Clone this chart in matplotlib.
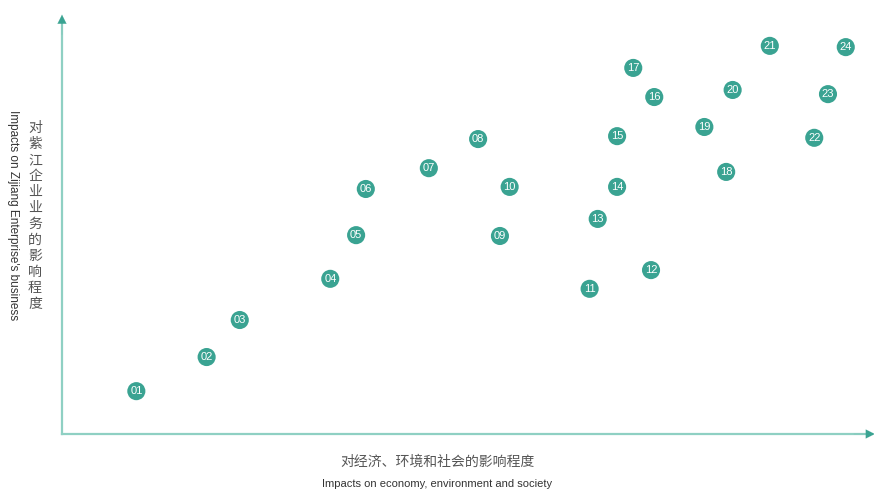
import matplotlib.pyplot as plt

# labels and positions (0-100 on both axes)
ids = ["01", "02", "03", "04", "05", "06", "07", "08", "09", "10", "11", "12",
       "13", "14", "15", "16", "17", "18", "19", "20", "21", "22", "23", "24"]
x_impact = [9.2, 17.9, 22.0, 33.2, 36.4, 37.6, 45.4, 51.5, 54.2, 55.4, 65.3, 72.9,
            66.3, 68.7, 68.7, 73.3, 70.7, 82.2, 79.5, 83.0, 87.6, 93.1, 94.8, 97.0]
y_impact = [10.3, 18.5, 27.4, 37.3, 47.8, 58.9, 63.9, 70.9, 47.6, 59.4, 34.9, 39.4,
            51.7, 59.4, 71.6, 81.0, 88.0, 63.0, 73.8, 82.7, 93.3, 71.2, 81.7, 93.0]

xlabel_cn = "对经济、环境和社会的影响程度"
xlabel_en = "Impacts on economy, environment and society"
ylabel_cn = "对紫江企业业务的影响程度"
ylabel_en = "Impacts on Zijiang Enterprise's business"

teal = "#3aa392"
axis_col = "#8fd0c3"
cjk = ["Noto Sans CJK SC", "DejaVu Sans"]
narrow = ["Liberation Sans Narrow", "Liberation Sans", "DejaVu Sans"]

fig = plt.figure(figsize=(8.74, 4.91), dpi=100)
ax = fig.add_axes([62 / 874, 57 / 491, 808 / 874, 416 / 491])
ax.set_xlim(0, 100)
ax.set_ylim(0, 100)
ax.axis("off")

# axis lines, then darker arrow heads on top
ax.plot([0, 0], [0, 0.99], color=axis_col, lw=1.6, transform=ax.transAxes,
        clip_on=False)
ax.plot([0, 0.995], [0, 0], color=axis_col, lw=1.6, transform=ax.transAxes,
        clip_on=False)
ax.annotate("", xy=(0, 1.008), xytext=(0, 0.96), xycoords="axes fraction",
            arrowprops=dict(arrowstyle="-|>", color=teal, lw=0.1,
                            mutation_scale=16, shrinkA=0, shrinkB=0))
ax.annotate("", xy=(1.006, 0), xytext=(0.98, 0), xycoords="axes fraction",
            arrowprops=dict(arrowstyle="-|>", color=teal, lw=0.1,
                            mutation_scale=16, shrinkA=0, shrinkB=0))

ax.scatter(x_impact, y_impact, s=170, color=teal, edgecolors="none",
           zorder=3, clip_on=False)
for label, xv, yv in zip(ids, x_impact, y_impact):
    ax.text(xv, yv, label, color="white", fontsize=8, family=narrow,
            ha="center", va="center", zorder=4)

# x axis titles
fig.text(437 / 874, 1 - 462 / 491, xlabel_cn, family=cjk, fontsize=10,
         color="#555555", ha="center", va="center")
fig.text(437 / 874, 1 - 484 / 491, xlabel_en, family=narrow, fontsize=8,
         color="#333333", ha="center", va="center")

# y axis titles: Chinese stacked upright, English rotated
fig.text(35 / 874, 1 - 216 / 491, "\n".join(ylabel_cn), family=cjk, fontsize=10,
         color="#555555", ha="center", va="center", linespacing=1.18)
fig.text(13 / 874, 1 - 215 / 491, ylabel_en, family=narrow, fontsize=8.5,
         color="#333333", ha="center", va="center", rotation=-90)

fig.savefig("out.png", dpi=100)
